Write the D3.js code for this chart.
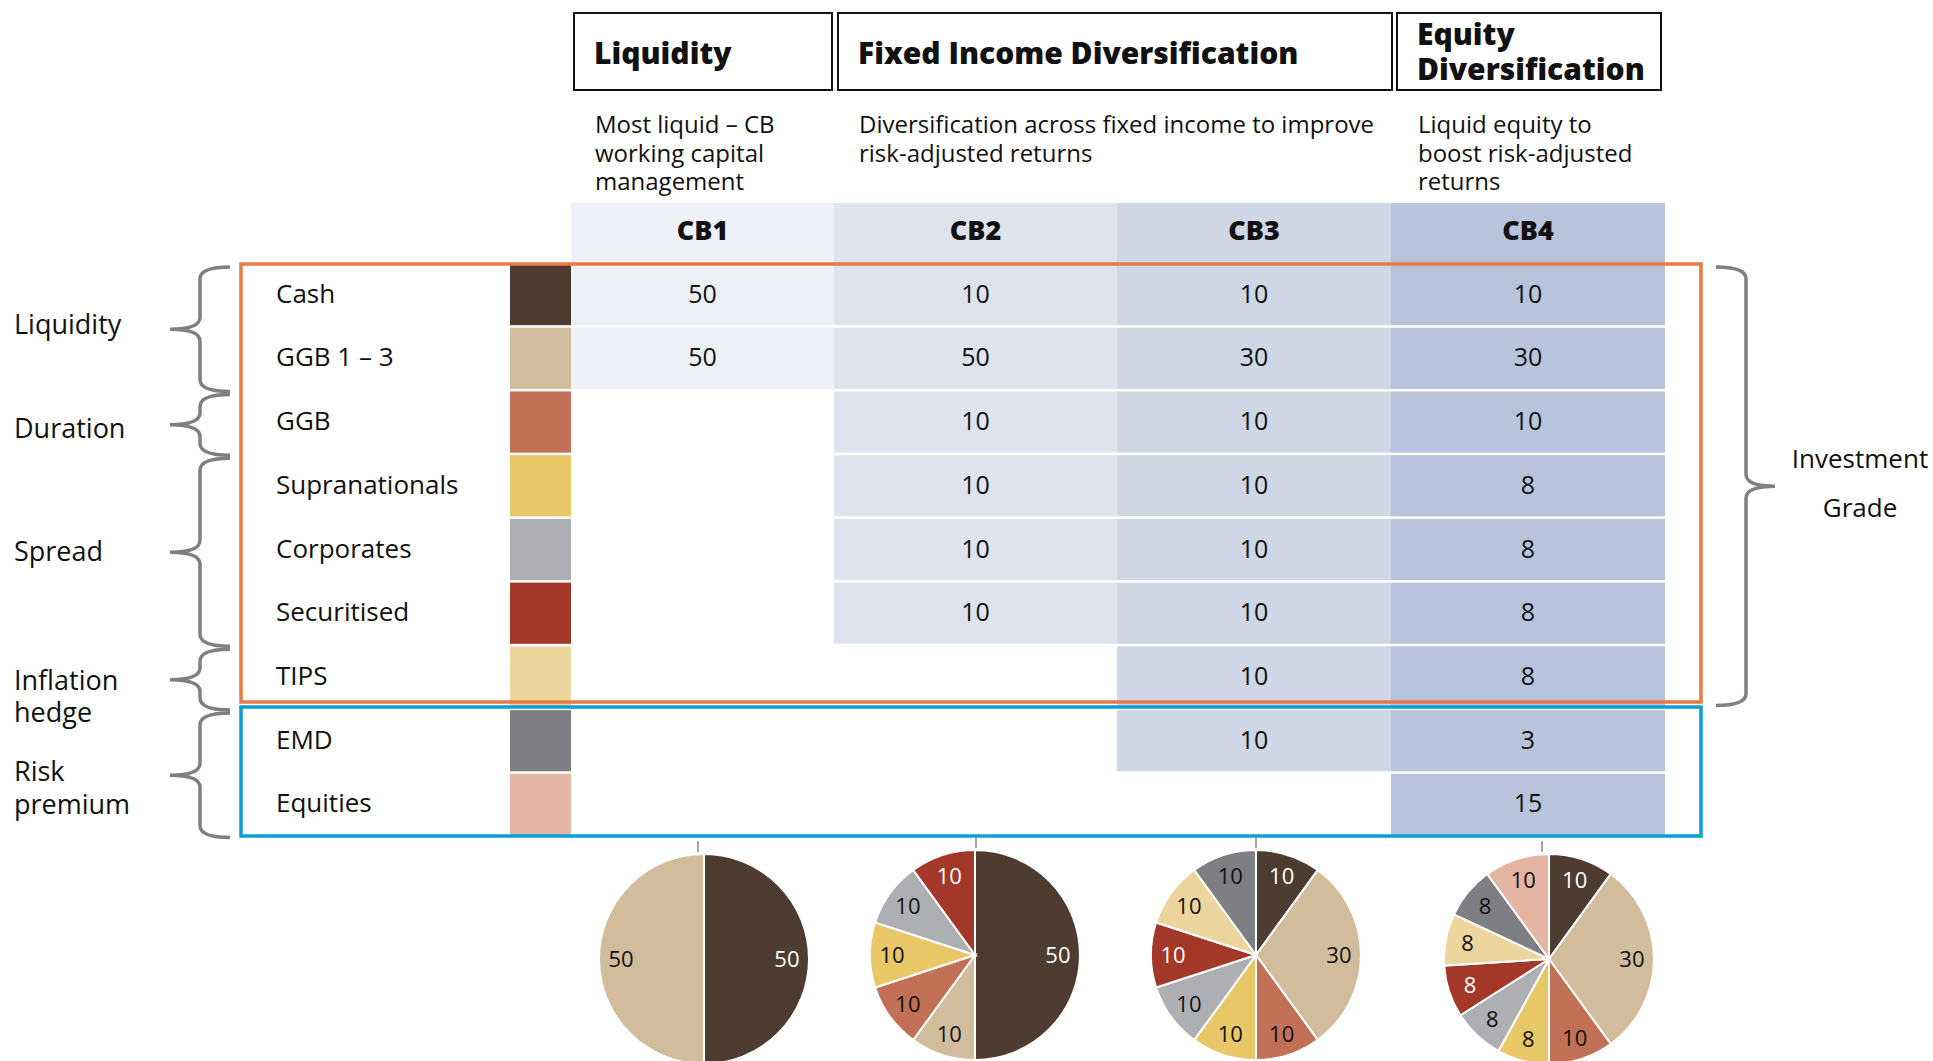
<!DOCTYPE html>
<html>
<head>
<meta charset="utf-8">
<script src="https://cdn.jsdelivr.net/npm/d3@7"></script>
<style>
  body { margin: 0; background: #fff; }
  text { font-family: "Open Sans", "Noto Sans", sans-serif; fill: #111; }
</style>
</head>
<body>
<div id="chart"></div>
<script>
// ---- data ----
var assets = ["Cash", "GGB 1 \u2013 3", "GGB", "Supranationals", "Corporates", "Securitised", "TIPS", "EMD", "Equities"];
var columns = ["CB1", "CB2", "CB3", "CB4"];

// table values per column (null = empty cell)
var cb1Values = [50, 50, null, null, null, null, null, null, null];
var cb2Values = [10, 50, 10, 10, 10, 10, null, null, null];
var cb3Values = [10, 30, 10, 10, 10, 10, 10, 10, null];
var cb4Values = [10, 30, 10, 8, 8, 8, 8, 3, 15];

// pie slices as drawn (same asset order, zero slices left out)
var cb1Pie = [50, 50];
var cb2Pie = [50, 10, 10, 10, 10, 10];
var cb3Pie = [10, 30, 10, 10, 10, 10, 10, 10];
var cb4Pie = [10, 30, 10, 8, 8, 8, 8, 8, 10];

var headerTitles = [["Liquidity"], ["Fixed Income Diversification"], ["Equity", "Diversification"]];
var headerNotes = [
  ["Most liquid \u2013 CB", "working capital", "management"],
  ["Diversification across fixed income to improve", "risk-adjusted returns"],
  ["Liquid equity to", "boost risk-adjusted", "returns"]
];

var groupNames = [["Liquidity"], ["Duration"], ["Spread"], ["Inflation", "hedge"], ["Risk", "premium"]];
var groupFirst = [0, 2, 3, 6, 7];
var groupLast = [1, 2, 5, 6, 8];
var rightGroup = ["Investment", "Grade"];

// ---- styles ----
var palette = ["#4e3c31", "#d1bd9b", "#c27157", "#e8c767", "#aeafb2", "#a43828", "#edd69d", "#7e7f83", "#e5b5a3"];
var columnFills = ["#edf0f6", "#dfe3ee", "#cfd6e6", "#b7c4dc"];
var darkLabels = ["Cash", "Securitised"];
var groupLabelShift = [-4, 4, 0, 0, -4];

var width = 1933, height = 1061;

var svg = d3.select("#chart")
  .append("svg")
    .attr("width", width)
    .attr("height", height)
    .style("display", "block");

var color = d3.scaleOrdinal().domain(assets).range(palette);
var colFill = d3.scaleOrdinal().domain(columns).range(columnFills);

// rows
var y = d3.scaleBand()
  .domain(assets)
  .range([264, 835])
  .paddingInner(0.04);

// columns have slightly different widths
var colEdges = [571, 834, 1117, 1391, 1665];
var xLeft = d3.scaleOrdinal().domain(columns).range(colEdges.slice(0, 4));
var xRight = d3.scaleOrdinal().domain(columns).range(colEdges.slice(1));
function xMid(c) { return (xLeft(c) + xRight(c)) / 2; }

var tableValues = [cb1Values, cb2Values, cb3Values, cb4Values];
var pieValues = [cb1Pie, cb2Pie, cb3Pie, cb4Pie];

// ---- header boxes ----
var boxX = [[574, 832], [838, 1392], [1397, 1661]];
var heads = svg.append("g").attr("class", "heads");
headerTitles.forEach(function(lines, i) {
  heads.append("rect")
    .attr("x", boxX[i][0]).attr("y", 13)
    .attr("width", boxX[i][1] - boxX[i][0]).attr("height", 77)
    .attr("fill", "none").attr("stroke", "#111").attr("stroke-width", 2);
  var t = heads.append("text")
    .attr("x", boxX[i][0] + 20)
    .attr("y", lines.length == 1 ? 64 : 45)
    .style("font-size", "30px").style("font-weight", "800");
  lines.forEach(function(l, j) {
    t.append("tspan").attr("x", boxX[i][0] + 20).attr("dy", j == 0 ? 0 : 35).text(l);
  });
  var n = heads.append("text")
    .attr("x", boxX[i][0] + 21).attr("y", 133)
    .style("font-size", "24px");
  headerNotes[i].forEach(function(l, j) {
    n.append("tspan").attr("x", boxX[i][0] + 21).attr("dy", j == 0 ? 0 : 28.5).text(l);
  });
});

// ---- column header band ----
svg.selectAll(".colhead")
  .data(columns)
  .enter().append("rect")
    .attr("class", "colhead")
    .attr("x", function(d) { return xLeft(d); })
    .attr("y", 203)
    .attr("width", function(d) { return xRight(d) - xLeft(d); })
    .attr("height", 61)
    .attr("fill", function(d) { return colFill(d); });

svg.selectAll(".collabel")
  .data(columns)
  .enter().append("text")
    .attr("class", "collabel")
    .attr("x", function(d) { return xMid(d); })
    .attr("y", 240)
    .attr("text-anchor", "middle")
    .style("font-size", "27px").style("font-weight", "800")
    .text(function(d) { return d; });

// ---- cells ----
var cells = [];
columns.forEach(function(c, ci) {
  tableValues[ci].forEach(function(v, ri) {
    if (v != null) cells.push({col: c, asset: assets[ri], value: v});
  });
});

svg.selectAll(".cell")
  .data(cells)
  .enter().append("rect")
    .attr("class", "cell")
    .attr("x", function(d) { return xLeft(d.col); })
    .attr("y", function(d) { return y(d.asset); })
    .attr("width", function(d) { return xRight(d.col) - xLeft(d.col); })
    .attr("height", y.bandwidth())
    .attr("fill", function(d) { return colFill(d.col); });

svg.selectAll(".cellval")
  .data(cells)
  .enter().append("text")
    .attr("class", "cellval")
    .attr("x", function(d) { return xMid(d.col); })
    .attr("y", function(d) { return y(d.asset) + y.bandwidth() / 2 + 8; })
    .attr("text-anchor", "middle")
    .style("font-size", "25px")
    .text(function(d) { return d.value; });

// ---- swatches and row labels ----
svg.selectAll(".swatch")
  .data(assets)
  .enter().append("rect")
    .attr("class", "swatch")
    .attr("x", 510)
    .attr("y", function(d) { return y(d); })
    .attr("width", 61)
    .attr("height", y.bandwidth())
    .attr("fill", function(d) { return color(d); });

svg.selectAll(".rowlabel")
  .data(assets)
  .enter().append("text")
    .attr("class", "rowlabel")
    .attr("x", 276)
    .attr("y", function(d) { return y(d) + y.bandwidth() / 2 + 8; })
    .style("font-size", "26px")
    .text(function(d) { return d; });

// ---- outline boxes ----
svg.append("rect")
  .attr("x", 241).attr("y", 264)
  .attr("width", 1460).attr("height", 438)
  .attr("fill", "none").attr("stroke", "#ea7944").attr("stroke-width", 3.5);

svg.append("rect")
  .attr("x", 241).attr("y", 707)
  .attr("width", 1460).attr("height", 129)
  .attr("fill", "none").attr("stroke", "#0a9fd8").attr("stroke-width", 3.5);

// ---- braces ----
function brace(top, bot, xEnd, xV, xTip) {
  var mid = (top + bot) / 2, r = 12;
  return "M" + xEnd + "," + top +
    " Q" + xV + "," + top + " " + xV + "," + (top + r) +
    " L" + xV + "," + (mid - r) +
    " Q" + xV + "," + mid + " " + xTip + "," + mid +
    " Q" + xV + "," + mid + " " + xV + "," + (mid + r) +
    " L" + xV + "," + (bot - r) +
    " Q" + xV + "," + bot + " " + xEnd + "," + bot;
}

var step = y.step();
groupNames.forEach(function(lines, i) {
  var top = y(assets[groupFirst[i]]) + 3;
  var bot = y(assets[groupLast[i]]) + step;
  svg.append("path")
    .attr("d", brace(top, bot, 230, 200, 170))
    .attr("fill", "none").attr("stroke", "#808083").attr("stroke-width", 3.5);
  var mid = (top + bot) / 2 + groupLabelShift[i];
  var t = svg.append("text")
    .attr("x", 14)
    .attr("y", lines.length == 1 ? mid + 9 : mid + 10)
    .style("font-size", "27px");
  lines.forEach(function(l, j) {
    t.append("tspan").attr("x", 14).attr("dy", j == 0 ? 0 : 32.5).text(l);
  });
});

// right brace over investment grade rows
var rTop = y(assets[0]) + 3, rBot = y(assets[6]) + y.bandwidth() - 2;
svg.append("path")
  .attr("d", brace(rTop, rBot, 1716, 1746, 1775))
  .attr("fill", "none").attr("stroke", "#808083").attr("stroke-width", 3.5);
var rt = svg.append("text")
  .attr("x", 1860).attr("y", (rTop + rBot) / 2 - 18)
  .attr("text-anchor", "middle")
  .style("font-size", "26px");
rightGroup.forEach(function(l, j) {
  rt.append("tspan").attr("x", 1860).attr("dy", j == 0 ? 0 : 48.5).text(l);
});

// ---- pies ----
var pieCenters = [[704, 959], [975, 955], [1256, 955], [1549, 959]];
var tickX = [698, 976, 1256, 1542];
var radius = 105;
var pie = d3.pie().sort(null).value(function(d) { return d.value; });
var arc = d3.arc().innerRadius(0).outerRadius(radius);
var labelArc = d3.arc().innerRadius(radius * 0.79).outerRadius(radius * 0.79);

columns.forEach(function(c, ci) {
  var slices = pieValues[ci].map(function(v, i) { return {asset: assets[i], value: v}; });
  svg.append("line")
    .attr("x1", tickX[ci]).attr("x2", tickX[ci])
    .attr("y1", pieCenters[ci][1] - radius - 13).attr("y2", pieCenters[ci][1] - radius - 2)
    .attr("stroke", "#8a8a8a").attr("stroke-width", 1.5);
  var g = svg.append("g")
    .attr("transform", "translate(" + pieCenters[ci][0] + "," + pieCenters[ci][1] + ")");
  g.selectAll("path")
    .data(pie(slices))
    .enter().append("path")
      .attr("d", arc)
      .attr("fill", function(d) { return color(d.data.asset); })
      .attr("stroke", "#fff").attr("stroke-width", 2);
  g.selectAll("text")
    .data(pie(slices))
    .enter().append("text")
      .attr("transform", function(d) { return "translate(" + labelArc.centroid(d) + ")"; })
      .attr("dy", "0.36em")
      .attr("text-anchor", "middle")
      .style("font-size", "22px")
      .style("fill", function(d) { return darkLabels.indexOf(d.data.asset) >= 0 ? "#fff" : "#111"; })
      .text(function(d) { return d.data.value; });
});
</script>
</body>
</html>
